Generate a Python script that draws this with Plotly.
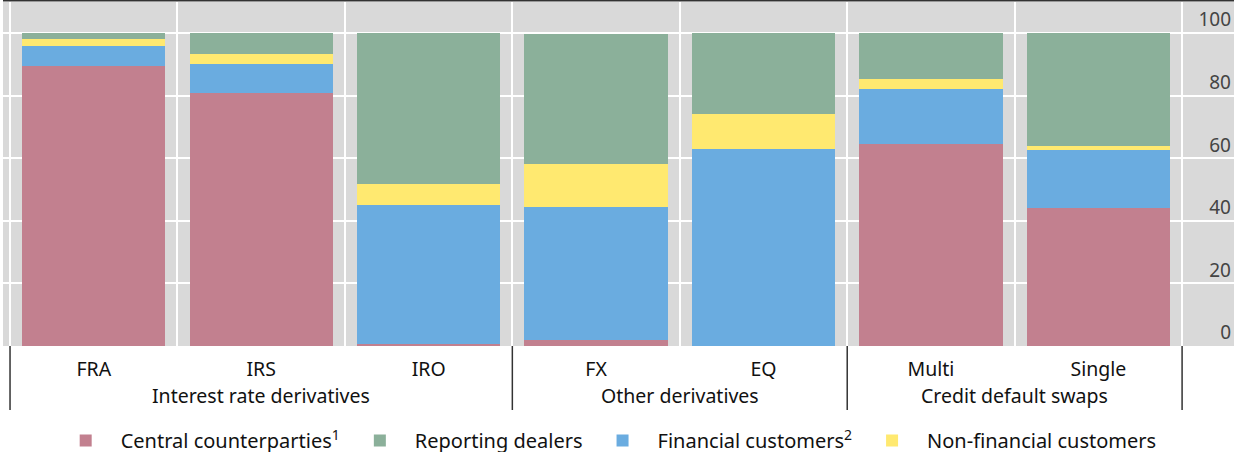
import plotly.graph_objects as go

instruments = ["FRA", "IRS", "IRO", "FX", "EQ", "Multi", "Single"]
group_names = ["Interest rate derivatives", "Other derivatives", "Credit default swaps"]
group_sizes = [3, 2, 2]

ccp = [89.5, 80.8, 0.7, 1.9, 0.0, 64.5, 44.1]
fin_cust = [6.4, 9.3, 44.4, 42.5, 62.9, 17.6, 18.5]
nonfin_cust = [2.2, 3.2, 6.7, 13.7, 11.2, 3.2, 1.3]
dealers = [1.9, 6.7, 48.2, 41.6, 25.9, 14.7, 36.1]

series = [
    ("Central counterparties<sup>1</sup>", ccp, "#c2808f", 1),
    ("Financial customers<sup>2</sup>", fin_cust, "#6aace0", 3),
    ("Non-financial customers", nonfin_cust, "#ffe970", 4),
    ("Reporting dealers", dealers, "#8bb09a", 2),
]

font = "Noto Sans"

fig = go.Figure()
for name, vals, color, rank in series:
    fig.add_trace(go.Bar(
        x=instruments, y=vals, name=name,
        marker={"color": color, "line": {"width": 0}},
        legendrank=rank,
    ))

# figure is a little taller than the window so the legend sits lower; overflow is hidden
fig.update_layout(
    width=1234, height=460,
    barmode="stack", bargap=0.145,
    plot_bgcolor="#d9d9d9", paper_bgcolor="white",
    margin={"l": 3, "r": 0, "t": 2, "b": 114},
    font={"family": font, "size": 19, "color": "#111"},
    showlegend=True,
    legend={"orientation": "h", "x": 0.49, "xanchor": "center",
            "yref": "container", "y": 0, "yanchor": "bottom",
            "font": {"size": 20}, "itemwidth": 60, "traceorder": "normal"},
)
fig.update_xaxes(
    type="category", range=[-0.542, 6.81], tickson="boundaries",
    showgrid=True, gridcolor="white", gridwidth=2,
    tickfont={"size": 19.5}, ticks="", ticklabelstandoff=9,
)
fig.update_yaxes(
    side="right", range=[0, 109.9], tickvals=[0, 20, 40, 60, 80, 100],
    ticklabelposition="inside top",
    showgrid=True, gridcolor="white", gridwidth=2, zeroline=False,
    tickfont={"size": 19},
)
fig.add_shape(type="line", xref="paper", yref="paper", x0=0, x1=1, y0=1.004, y1=1.004,
              line={"color": "#333", "width": 2})

# group dividers and labels below the category labels
start = 0
edges = [-0.5]
for gname, size in zip(group_names, group_sizes):
    fig.add_annotation(x=start + (size - 1) / 2, y=-0.145, xref="x", yref="paper",
                       text=gname, showarrow=False, yanchor="middle",
                       font={"size": 19.5})
    start += size
    edges.append(start - 0.5)
for e in edges:
    fig.add_shape(type="line", xref="x", yref="paper", x0=e, x1=e, y0=0, y1=-0.186,
                  line={"color": "#333", "width": 1.5})

fig.write_html("out.html", config={"displayModeBar": False},
               post_script="document.body.style.margin='0';document.body.style.overflow='hidden';")
